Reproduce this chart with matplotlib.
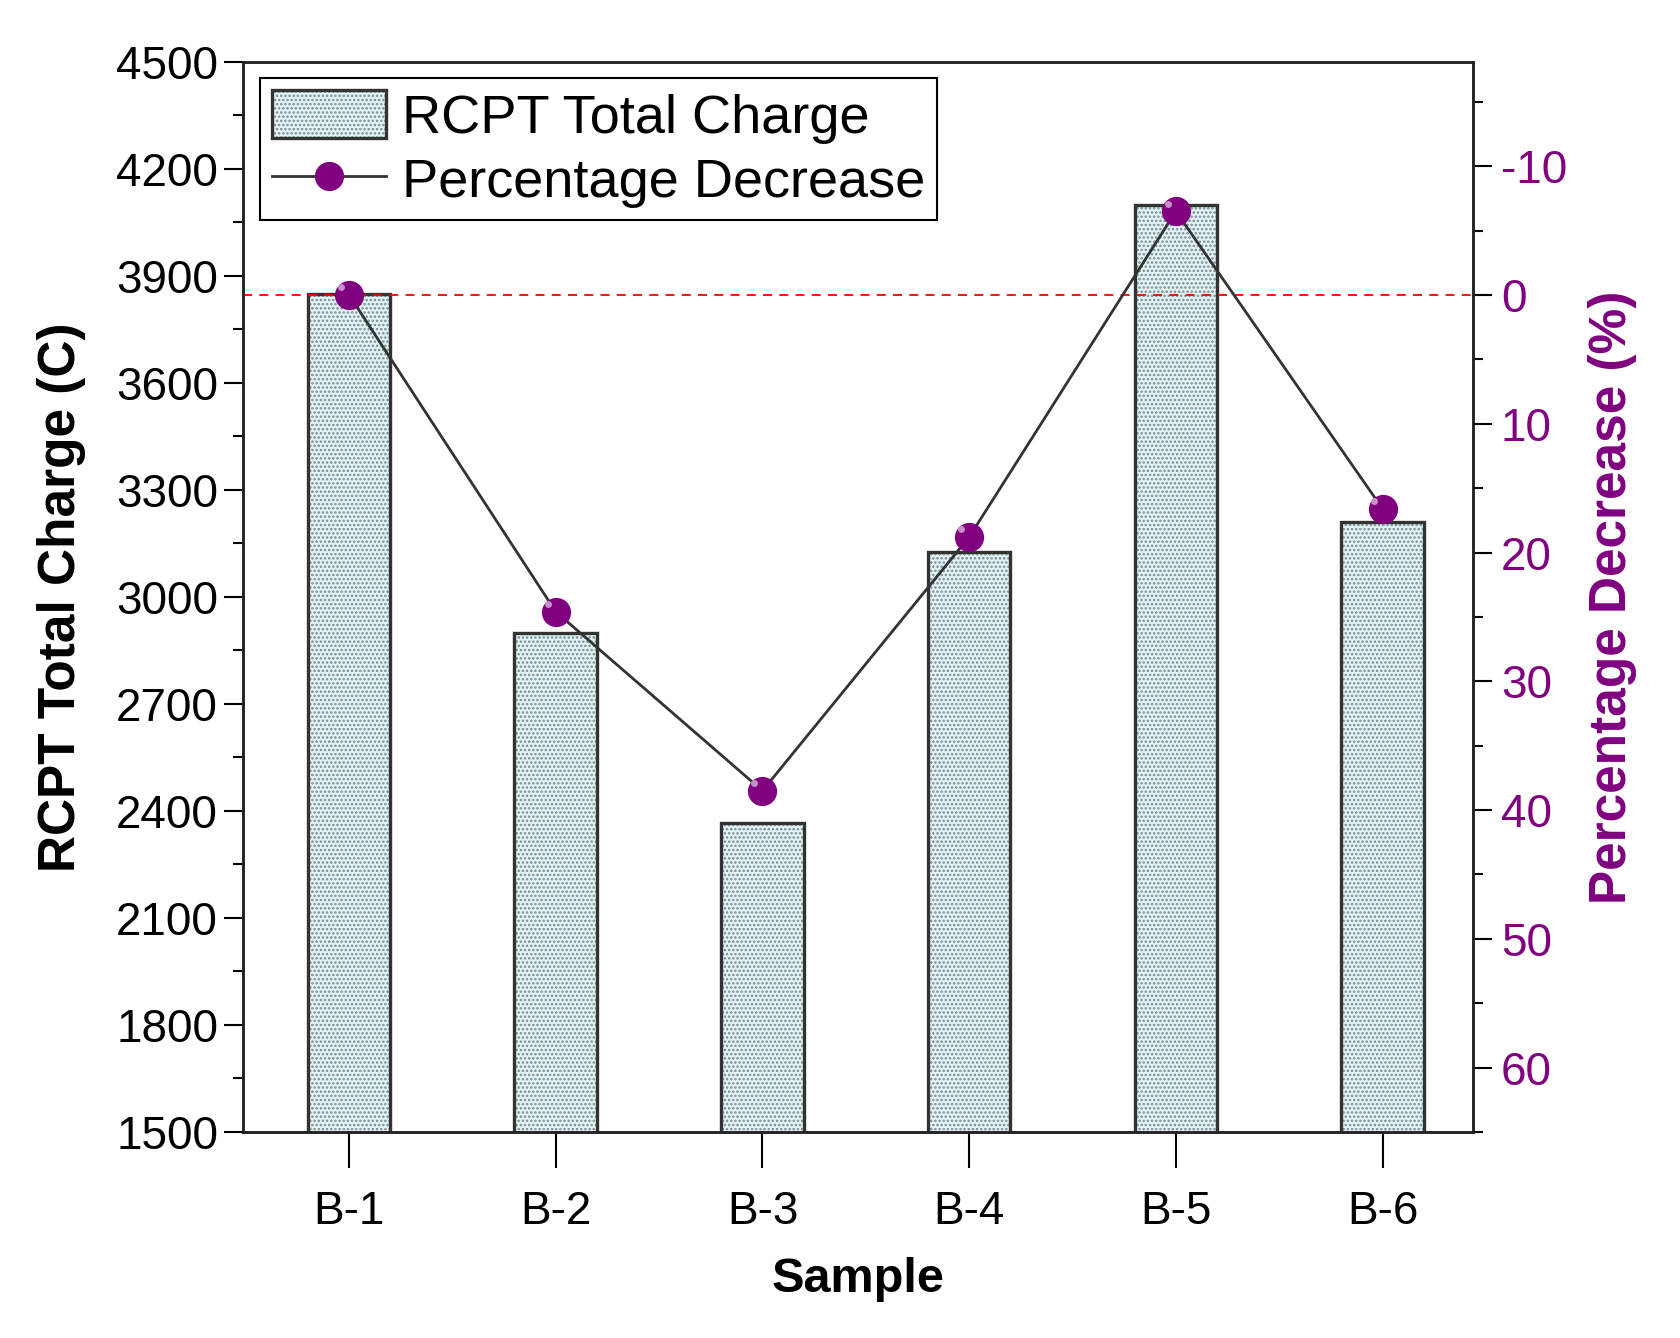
import matplotlib
matplotlib.use("Agg")
import matplotlib.pyplot as plt
from matplotlib.ticker import MultipleLocator
import numpy as np

plt.rcParams['font.family'] = ['Liberation Sans', 'DejaVu Sans']
plt.rcParams['axes.unicode_minus'] = False
plt.rcParams['hatch.linewidth'] = 1.2

samples = ["B-1", "B-2", "B-3", "B-4", "B-5", "B-6"]
charge = [3850, 2900, 2365, 3125, 4100, 3210]
decrease = [0.0, 24.6, 38.5, 18.8, -6.5, 16.6]

purple = "#800080"
x = np.arange(len(samples))

fig = plt.figure(figsize=(16.81, 13.38), dpi=100)
ax1 = fig.add_axes([0.1446, 0.154, 0.7317, 0.7997])

# bars: hatched fill first, then outline on top
b1 = ax1.bar(x, charge, width=0.40, color="#e0f3f6", edgecolor="#7d8a8c",
             hatch="....", linewidth=0, zorder=2)
b2 = ax1.bar(x, charge, width=0.40, color="none", edgecolor="#333333",
             linewidth=2.4, zorder=3)

ax1.set_xlim(-0.513, 5.438)
ax1.set_ylim(1500, 4500)
ax1.yaxis.set_major_locator(MultipleLocator(300))
ax1.yaxis.set_minor_locator(MultipleLocator(150))
ax1.set_xticks(x)
ax1.set_xticklabels(samples)
ax1.tick_params(axis="y", which="major", direction="out", length=14, width=1.5, labelsize=33, pad=4)
ax1.tick_params(axis="y", which="minor", direction="out", length=7, width=1.5)
ax1.tick_params(axis="x", which="major", direction="out", length=26, width=1.5, labelsize=33, pad=16)
for s in ax1.spines.values():
    s.set_linewidth(1.8)
    s.set_color("#222222")
ax1.set_ylabel("RCPT Total Charge (C)", fontsize=37, fontweight="bold", labelpad=22)
ax1.set_xlabel("Sample", fontsize=35, fontweight="bold", labelpad=16)

ax2 = ax1.twinx()
ax2.set_ylim(65, -18.1)
ax2.yaxis.set_major_locator(MultipleLocator(10))
ax2.yaxis.set_minor_locator(MultipleLocator(5))
ax2.set_yticks([-10, 0, 10, 20, 30, 40, 50, 60])
ax2.tick_params(axis="y", which="major", direction="out", length=14, width=1.5,
                labelsize=33, labelcolor=purple, pad=6)
ax2.tick_params(axis="y", which="minor", direction="out", length=7, width=1.5)
for s in ax2.spines.values():
    s.set_linewidth(1.8)
    s.set_color("#222222")
ax2.axhline(0, color="red", linestyle=(0, (5, 4)), linewidth=1.3, zorder=1)
line, = ax2.plot(x, decrease, color="#333333", linewidth=2.0, marker="o",
                 markersize=20, markerfacecolor=purple, markeredgecolor=purple, zorder=4)
# small highlight on the markers
ax2.plot(x - 0.04, np.array(decrease) - 0.6, linestyle="none", marker="o", markersize=5,
         markerfacecolor="#c890c8", markeredgecolor="none", zorder=5)
ax2.set_ylabel("Percentage Decrease (%)", fontsize=37, fontweight="bold", color=purple,
               labelpad=15)

leg = ax2.legend([(b1[0], b2[0]), line], ["RCPT Total Charge", "Percentage Decrease"],
                 loc="upper left", bbox_to_anchor=(0.014, 0.985), fontsize=39,
                 frameon=True, fancybox=False, edgecolor="black", framealpha=1,
                 handlelength=2.1, handleheight=1.0, borderpad=0.22, labelspacing=0.2,
                 handletextpad=0.3, borderaxespad=0)
leg.get_frame().set_linewidth(1.5)

fig.savefig("out.png", dpi=100, facecolor="white")
